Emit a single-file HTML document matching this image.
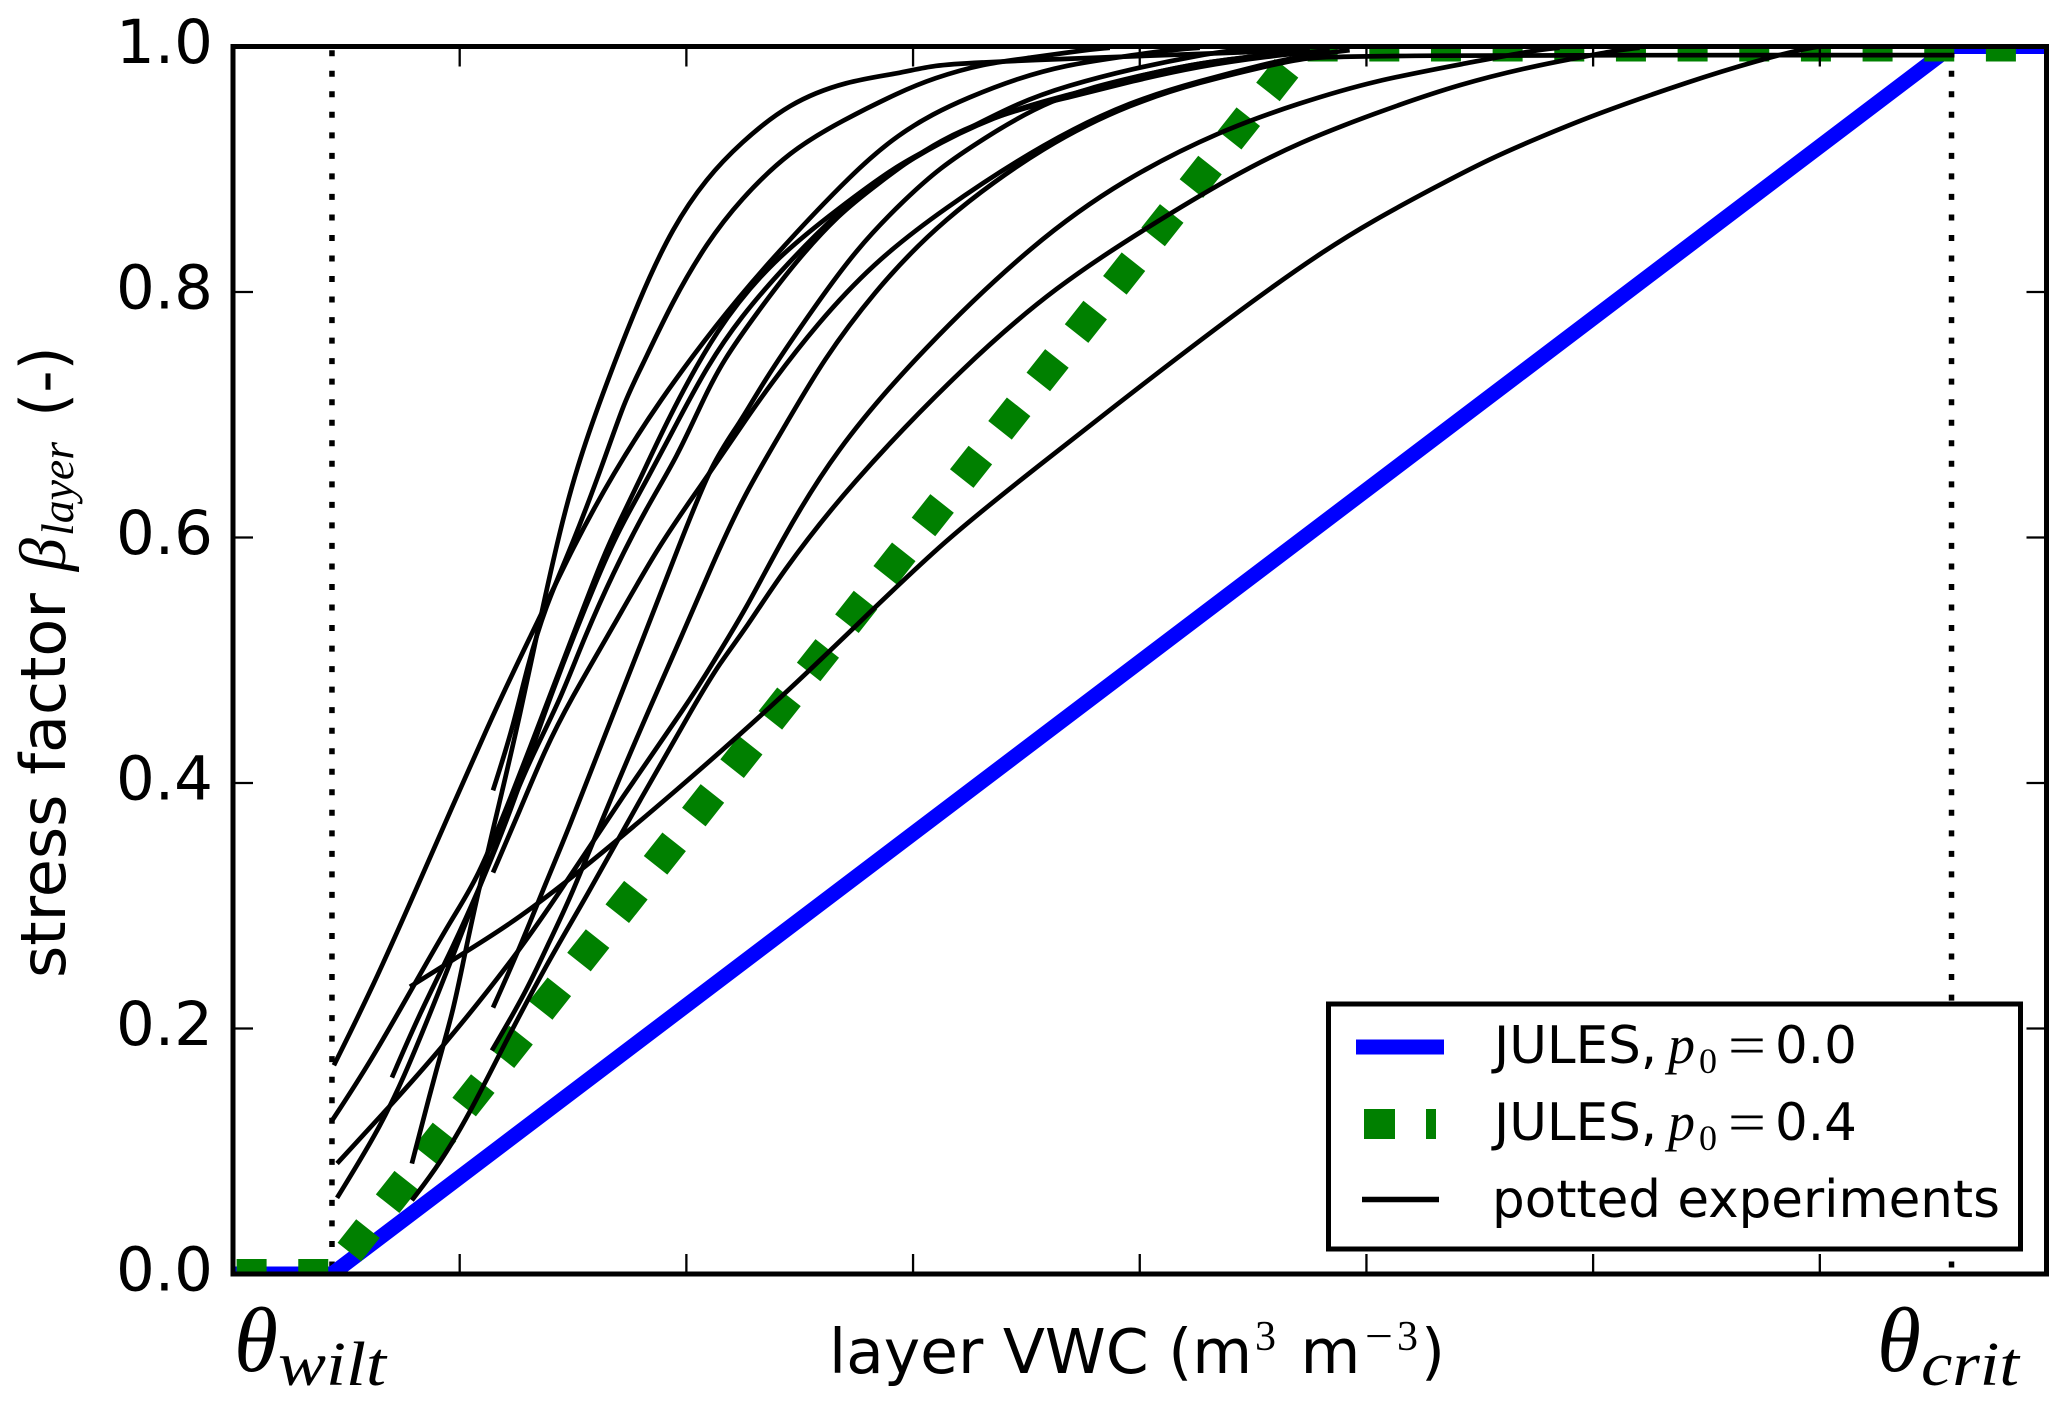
<!DOCTYPE html>
<html lang="en">
<head>
<meta charset="utf-8">
<title>Stress factor vs layer VWC</title>
<style>
  html, body { margin: 0; padding: 0; background: #ffffff; }
  svg { display: block; }
  .sans { font-family: "DejaVu Sans", "Liberation Sans", sans-serif; fill: #000; }
  .math { font-family: "Liberation Serif", "DejaVu Serif", serif; font-style: italic; fill: #000; }
  .roman { font-family: "Liberation Serif", "DejaVu Serif", serif; fill: #000; }
</style>
</head>
<body>
<svg id="chart" xmlns="http://www.w3.org/2000/svg" width="2067" height="1404" viewBox="0 0 2067 1404">
  <rect x="0" y="0" width="2067" height="1404" fill="#ffffff"/>
  <defs>
    <clipPath id="plot-clip"><rect x="233" y="46.5" width="1813.5" height="1227.5"/></clipPath>
  </defs>
  <g id="marks" clip-path="url(#plot-clip)"></g>
  <g id="axes"></g>

  <g transform="translate(65,973) rotate(-90)">
    <text class="sans" x="-5" y="0" font-size="62">stress factor</text>
    <text class="math" x="402" y="0" font-size="66">β</text>
    <text class="math" x="437" y="8" font-size="45" textLength="94" lengthAdjust="spacingAndGlyphs">layer</text>
    <text class="sans" x="556" y="0" font-size="62">(-)</text>
  </g>

  <g>
    <text class="sans" x="829" y="1373" font-size="61.5">layer VWC (m</text>
    <text class="roman" x="1255" y="1350" font-size="42">3</text>
    <text class="sans" x="1300.5" y="1373" font-size="61.5">m</text>
    <text class="roman" x="1365" y="1350" font-size="42" textLength="28" lengthAdjust="spacingAndGlyphs">−</text>
    <text class="roman" x="1397" y="1350" font-size="42">3</text>
    <text class="sans" x="1421" y="1373" font-size="61.5">)</text>
  </g>

  <g>
    <text class="math" x="234" y="1371" font-size="92" textLength="44" lengthAdjust="spacingAndGlyphs">θ</text>
    <text class="math" x="278" y="1385" font-size="62" textLength="108" lengthAdjust="spacingAndGlyphs">wilt</text>
  </g>
  <g>
    <text class="math" x="1877" y="1371" font-size="92" textLength="44" lengthAdjust="spacingAndGlyphs">θ</text>
    <text class="math" x="1921" y="1385" font-size="62" textLength="98" lengthAdjust="spacingAndGlyphs">crit</text>
  </g>

  <g>
    <rect x="1328.5" y="1004" width="692" height="245" fill="#ffffff" stroke="#000000" stroke-width="5"/>
    <g>
      <line x1="1356" y1="1047" x2="1444" y2="1047" stroke="#0000ff" stroke-width="15"/>
      <text class="sans" x="1494" y="1063" font-size="51.5">JULES,</text>
      <text class="math" x="1668" y="1063" font-size="54">p</text>
      <text class="roman" x="1699" y="1073" font-size="36">0</text>
      <text class="roman" x="1728" y="1064" font-size="56" textLength="38" lengthAdjust="spacingAndGlyphs">=</text>
      <text class="sans" x="1775" y="1063" font-size="51.5">0.0</text>
    </g>
    <g>
      <rect x="1364" y="1109" width="31" height="30" fill="#008000"/>
      <rect x="1426" y="1109" width="10" height="30" fill="#008000"/>
      <text class="sans" x="1494" y="1140" font-size="51.5">JULES,</text>
      <text class="math" x="1668" y="1140" font-size="54">p</text>
      <text class="roman" x="1699" y="1150" font-size="36">0</text>
      <text class="roman" x="1728" y="1141" font-size="56" textLength="38" lengthAdjust="spacingAndGlyphs">=</text>
      <text class="sans" x="1775" y="1140" font-size="51.5">0.4</text>
    </g>
    <g>
      <line x1="1362" y1="1199.5" x2="1439" y2="1199.5" stroke="#000000" stroke-width="5.5"/>
      <text class="sans" x="1492" y="1217" font-size="51.5">potted experiments</text>
    </g>
  </g>
</svg>

<script>
// ---- chart data (x in tick units 0-8, y is the stress factor) ----
const xTicks = [0, 1, 2, 3, 4, 5, 6, 7, 8];
const yTicks = [0, 0.2, 0.4, 0.6, 0.8, 1];
const yTickLabels = ['0.0', '0.2', '0.4', '0.6', '0.8', '1.0'];
const thetaLines = [0.4366, 7.581];

const blueX = [0, 0.4366, 7.581, 8];
const blueY = [0, 0, 1, 1];
const greenX = [0, 0.4366, 4.724, 8];
const greenY = [0, 0, 1, 1];

const potA_x = [0.445,0.604,0.789,1.147,1.341,1.499,1.676,1.883,2.134,2.355,2.752,2.942,3.087,3.237,3.458,3.678,3.899,4.119,4.265];
const potA_y = [0.170,0.229,0.305,0.457,0.530,0.592,0.652,0.712,0.774,0.823,0.901,0.929,0.945,0.958,0.974,0.985,0.991,0.997,0.999];
const potB_x = [1.147,1.235,1.297,1.376,1.499,1.632,1.729,1.795,1.940,2.090,2.236,2.456,2.690,2.942,3.087,3.308,3.528,3.749,3.868];
const potB_y = [0.394,0.445,0.494,0.543,0.595,0.660,0.712,0.736,0.793,0.840,0.875,0.915,0.940,0.963,0.974,0.986,0.991,0.997,0.999];
const potC_x = [0.789,0.900,0.970,1.014,1.076,1.178,1.266,1.354,1.442,1.517,1.619,1.795,1.940,2.090,2.236,2.452,2.708,2.942,3.087,3.308,3.528,3.824,4.265,4.706];
const potC_y = [0.090,0.169,0.213,0.253,0.307,0.386,0.455,0.533,0.606,0.657,0.712,0.796,0.853,0.893,0.921,0.954,0.972,0.978,0.985,0.987,0.989,0.991,0.994,0.997];
const potD_x = [1.147,1.266,1.376,1.486,1.676,1.883,2.060,2.258,2.368,2.576,2.822,3.118,3.590,3.969,4.265,4.560,4.706,4.926];
const potD_y = [0.327,0.378,0.427,0.467,0.527,0.595,0.641,0.695,0.724,0.774,0.823,0.866,0.923,0.956,0.972,0.986,0.992,0.997];
const potE_x = [0.437,0.604,0.794,0.970,1.076,1.222,1.389,1.530,1.632,1.707,1.795,1.914,2.134,2.381,2.677,2.942,3.118,3.458,3.678,3.969,4.265,4.410,4.560];
const potE_y = [0.125,0.172,0.234,0.291,0.321,0.386,0.467,0.535,0.584,0.614,0.647,0.695,0.771,0.826,0.869,0.905,0.921,0.954,0.968,0.982,0.993,0.997,0.999];
const potF_x = [0.459,0.679,0.926,1.222,1.420,1.707,2.015,2.117,2.267,2.412,2.650,3.043,3.537,3.929,4.362,4.706,5.028,5.460,5.742,5.852];
const potF_y = [0.090,0.134,0.185,0.253,0.305,0.386,0.467,0.498,0.543,0.595,0.670,0.754,0.841,0.892,0.932,0.954,0.972,0.987,0.997,0.999];
const potG_x = [0.459,0.635,0.750,0.900,1.076,1.200,1.310,1.442,1.544,1.676,1.826,1.958,2.073,2.161,2.311,2.487,2.677,2.822,3.118,3.458,3.678,3.969,4.265,4.560,4.838];
const potG_y = [0.062,0.115,0.158,0.226,0.309,0.370,0.419,0.467,0.516,0.571,0.625,0.665,0.712,0.744,0.783,0.826,0.864,0.885,0.926,0.949,0.958,0.972,0.984,0.992,0.997];
const potH_x = [0.701,0.825,0.970,1.103,1.244,1.389,1.632,1.720,1.826,1.963,2.090,2.236,2.443,2.677,2.822,3.118,3.458,3.678,3.969,4.265,4.560,4.706];
const potH_y = [0.160,0.213,0.266,0.321,0.386,0.467,0.579,0.612,0.647,0.695,0.739,0.779,0.823,0.866,0.888,0.923,0.950,0.960,0.975,0.987,0.993,0.997];
const potI_x = [0.781,0.970,1.208,1.486,1.971,2.404,2.748,3.140,3.537,4.048,4.520,4.816,5.028,5.288,5.548,5.764,5.998,6.430,6.734,6.928,6.999];
const potI_y = [0.234,0.256,0.283,0.321,0.396,0.467,0.528,0.598,0.656,0.730,0.796,0.834,0.858,0.884,0.909,0.926,0.944,0.972,0.989,0.998,1.000];
const potJ_x = [0.789,0.913,1.045,1.191,1.385,1.552,1.795,2.046,2.148,2.267,2.412,2.708,3.241,3.634,4.026,4.423,4.706,5.028,5.416,5.786,5.998,6.108,6.205];
const potJ_y = [0.060,0.090,0.131,0.185,0.253,0.305,0.386,0.467,0.498,0.527,0.569,0.641,0.743,0.805,0.852,0.896,0.922,0.945,0.970,0.986,0.993,0.997,0.999];
const potK_x = [1.147,1.266,1.385,1.473,1.649,1.795,1.971,2.117,2.236,2.337,2.531,2.752,2.972,3.118,3.294,3.603,3.969,4.265,4.560,4.750];
const potK_y = [0.217,0.266,0.321,0.359,0.443,0.511,0.595,0.663,0.693,0.726,0.779,0.836,0.877,0.901,0.923,0.958,0.975,0.987,0.993,0.998];
const potL_x = [1.142,1.297,1.398,1.486,1.663,1.852,1.971,2.117,2.249,2.448,2.602,2.822,3.118,3.590,3.969,4.265,4.560,4.706,4.882,7.594];
const potL_y = [0.182,0.231,0.272,0.305,0.386,0.467,0.516,0.579,0.633,0.695,0.744,0.799,0.858,0.921,0.954,0.971,0.984,0.990,0.993,0.993];

const pottedSeries = [
  [potA_x, potA_y], [potB_x, potB_y], [potC_x, potC_y], [potD_x, potD_y],
  [potE_x, potE_y], [potF_x, potF_y], [potG_x, potG_y], [potH_x, potH_y],
  [potI_x, potI_y], [potJ_x, potJ_y], [potK_x, potK_y], [potL_x, potL_y]
];

// ---- axis functions ----
const plotLeft = 233, plotRight = 2046.5, plotTop = 46.5, plotBottom = 1274;
const xDomainMax = 8;
function sx(v) { return plotLeft + (v / xDomainMax) * (plotRight - plotLeft); }
function sy(v) { return plotBottom - v * (plotBottom - plotTop); }

const NS = 'http://www.w3.org/2000/svg';
const marks = document.getElementById('marks');
const axes = document.getElementById('axes');

function polyPath(xs, ys) {
  return xs.map((v, i) => (i ? 'L' : 'M') + sx(v).toFixed(2) + ' ' + sy(ys[i]).toFixed(2)).join(' ');
}
// clamped uniform cubic B-spline through the read points: removes reading jitter
function smoothPath(xs, ys) {
  const raw = xs.map((v, i) => [sx(v), sy(ys[i])]);
  const p = [raw[0], raw[0]].concat(raw, [raw[raw.length - 1], raw[raw.length - 1]]);
  let d = 'M' + raw[0][0].toFixed(2) + ' ' + raw[0][1].toFixed(2);
  for (let i = 1; i < p.length - 2; i++) {
    const a = p[i], b = p[i + 1], c = p[i + 2];
    const c1x = (2 * a[0] + b[0]) / 3, c1y = (2 * a[1] + b[1]) / 3;
    const c2x = (a[0] + 2 * b[0]) / 3, c2y = (a[1] + 2 * b[1]) / 3;
    const ex = (a[0] + 4 * b[0] + c[0]) / 6, ey = (a[1] + 4 * b[1] + c[1]) / 6;
    d += ' C' + c1x.toFixed(2) + ' ' + c1y.toFixed(2) + ' ' + c2x.toFixed(2) + ' ' + c2y.toFixed(2) + ' ' + ex.toFixed(2) + ' ' + ey.toFixed(2);
  }
  return d;
}

// theta reference lines (dotted)
thetaLines.forEach(function (v) {
  const el = document.createElementNS(NS, 'line');
  
  
  el.setAttribute('x1', sx(v));
  el.setAttribute('x2', sx(v));
  el.setAttribute('y1', sy(1));
  el.setAttribute('y2', sy(0));
  el.setAttribute('stroke', '#000');
  el.setAttribute('stroke-width', '5.5');
  el.setAttribute('stroke-dasharray', '6 14.53');
  el.setAttribute('stroke-dashoffset', '16.83');
  marks.appendChild(el);
});

// blue JULES p0 = 0.0
const blue = document.createElementNS(NS, 'path');


blue.setAttribute('d', polyPath(blueX, blueY));
blue.setAttribute('fill', 'none');
blue.setAttribute('stroke', '#0000ff');
blue.setAttribute('stroke-width', '15');
blue.setAttribute('stroke-miterlimit', '10');
marks.appendChild(blue);

// green JULES p0 = 0.4
const green = document.createElementNS(NS, 'path');


green.setAttribute('d', polyPath(greenX, greenY));
green.setAttribute('fill', 'none');
green.setAttribute('stroke', '#008000');
green.setAttribute('stroke-width', '30');
green.setAttribute('stroke-dasharray', '30 31.66');
green.setAttribute('stroke-dashoffset', '58.06');
marks.appendChild(green);

// potted experiments
pottedSeries.forEach(function (s) {
  const el = document.createElementNS(NS, 'path');
  
  
  el.setAttribute('d', smoothPath(s[0], s[1]));
  el.setAttribute('fill', 'none');
  el.setAttribute('stroke', '#000');
  el.setAttribute('stroke-width', '4.7');
  marks.appendChild(el);
});

// ticks (inward, all four sides)
xTicks.slice(1, -1).forEach(function (v) {
  [[plotBottom, plotBottom - 20], [plotTop, plotTop + 20]].forEach(function (pair) {
    const t = document.createElementNS(NS, 'line');
    
    
    t.setAttribute('x1', sx(v));
    t.setAttribute('x2', sx(v));
    t.setAttribute('y1', pair[0]);
    t.setAttribute('y2', pair[1]);
    t.setAttribute('stroke', '#000');
    t.setAttribute('stroke-width', '2.3');
    axes.appendChild(t);
  });
});
yTicks.forEach(function (v, i) {
  if (i > 0 && i < yTicks.length - 1) {
    [[plotLeft, plotLeft + 20], [plotRight, plotRight - 20]].forEach(function (pair) {
      const t = document.createElementNS(NS, 'line');
      
      
      t.setAttribute('x1', pair[0]);
      t.setAttribute('x2', pair[1]);
      t.setAttribute('y1', sy(v));
      t.setAttribute('y2', sy(v));
      t.setAttribute('stroke', '#000');
      t.setAttribute('stroke-width', '2.3');
      axes.appendChild(t);
    });
  }
  const label = document.createElementNS(NS, 'text');
  
  
  label.setAttribute('class', 'sans');
  label.setAttribute('x', '213');
  label.setAttribute('y', sy(v) + 16.5);
  label.setAttribute('font-size', '61');
  label.setAttribute('text-anchor', 'end');
  label.textContent = yTickLabels[i];
  axes.appendChild(label);
});

// spines
const frame = document.createElementNS(NS, 'rect');


frame.setAttribute('x', plotLeft);
frame.setAttribute('y', plotTop);
frame.setAttribute('width', plotRight - plotLeft);
frame.setAttribute('height', plotBottom - plotTop);
frame.setAttribute('fill', 'none');
frame.setAttribute('stroke', '#000');
frame.setAttribute('stroke-width', '5');
axes.appendChild(frame);
</script>
</body>
</html>
